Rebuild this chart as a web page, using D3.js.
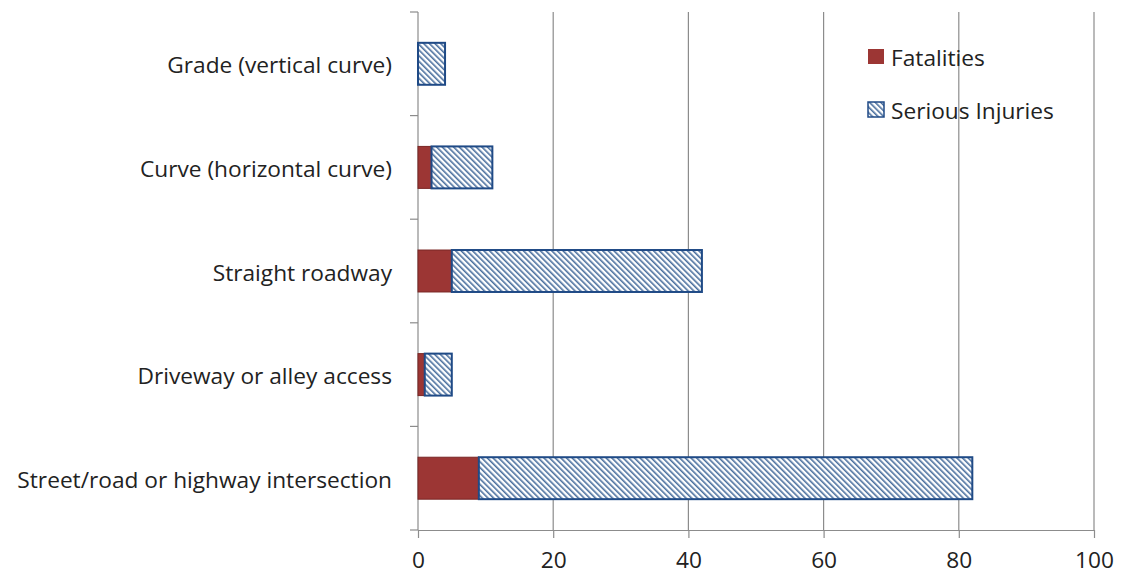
<!DOCTYPE html>
<html>
<head>
<meta charset="utf-8">
<script src="https://cdn.jsdelivr.net/npm/d3@7"></script>
<style>
  body { margin: 0; background: #fff; }
  svg { display: block; }
  text { font-family: "Open Sans", "Liberation Sans", sans-serif; fill: #222; }
</style>
</head>
<body>
<svg id="chart" width="1129" height="576"></svg>
<script>
// Crash counts by roadway alignment
const categories = [
  "Grade (vertical curve)",
  "Curve (horizontal curve)",
  "Straight roadway",
  "Driveway or alley access",
  "Street/road or highway intersection"
];
const fatalities = [0, 2, 5, 1, 9];
const seriousInjuries = [4, 9, 37, 4, 73];
const xTicks = [0, 20, 40, 60, 80, 100];
const seriesNames = ["Fatalities", "Serious Injuries"];

const svg = d3.select("#chart");
const margin = { left: 418, right: 35, top: 12, bottom: 46 };
const W = 1129, H = 576;
const fontSize = 22.7;

const x = d3.scaleLinear().domain([0, 100]).range([margin.left, W - margin.right]);
const y = d3.scaleBand().domain(categories).range([margin.top, H - margin.bottom]).paddingInner(0.595).paddingOuter(0.2975);

// diagonal hatch for serious injuries
const defs = svg.append("defs");
const pat = defs.append("pattern")
  .attr("id", "hatch").attr("patternUnits", "userSpaceOnUse")
  .attr("width", 4).attr("height", 4)
  .attr("patternTransform", "rotate(-45)");
pat.append("rect").attr("width", 4).attr("height", 4).attr("fill", "#ffffff");
pat.append("rect").attr("x", 0).attr("y", 0).attr("width", 1.6).attr("height", 4).attr("fill", "#4a6f9e");

// vertical gridlines
svg.append("g").selectAll("line").data(xTicks.slice(1)).join("line")
  .attr("x1", d => x(d)).attr("x2", d => x(d))
  .attr("y1", margin.top).attr("y2", H - margin.bottom)
  .attr("stroke", "#8c8c8c").attr("stroke-width", 1.2);

// x axis
const xAxis = svg.append("g")
  .attr("transform", `translate(0,${H - margin.bottom})`)
  .call(d3.axisBottom(x).tickValues(xTicks).tickSize(8).tickSizeOuter(0).tickPadding(14));
xAxis.select(".domain").attr("stroke", "#8c8c8c").attr("stroke-width", 1.2);
xAxis.selectAll(".tick line").attr("stroke", "#8c8c8c").attr("stroke-width", 1.2);
xAxis.selectAll(".tick text").attr("font-size", fontSize).attr("fill", "#222")
  .attr("font-family", "'Open Sans', 'Liberation Sans', sans-serif");

// y axis with ticks on band boundaries
const yAxisG = svg.append("g").attr("transform", `translate(${margin.left},0)`);
yAxisG.append("line").attr("x1", 0).attr("x2", 0)
  .attr("y1", margin.top).attr("y2", H - margin.bottom)
  .attr("stroke", "#8c8c8c").attr("stroke-width", 1.2);
const step = (H - margin.bottom - margin.top) / categories.length;
yAxisG.selectAll("line.tk").data(d3.range(categories.length + 1)).join("line")
  .attr("class", "tk")
  .attr("x1", -8).attr("x2", 0)
  .attr("y1", i => margin.top + i * step).attr("y2", i => margin.top + i * step)
  .attr("stroke", "#8c8c8c").attr("stroke-width", 1.2);
yAxisG.selectAll("text").data(categories).join("text")
  .attr("x", -26).attr("y", d => y(d) + y.bandwidth() / 2 + 1)
  .attr("text-anchor", "end").attr("dominant-baseline", "central")
  .attr("font-size", fontSize).text(d => d);

// stacked bars
const rows = categories.map((c, i) => ({ c, f: fatalities[i], s: seriousInjuries[i] }));
const bars = svg.append("g");
bars.selectAll("rect.f").data(rows.filter(r => r.f > 0)).join("rect")
  .attr("class", "f")
  .attr("x", d => x(0)).attr("y", d => y(d.c))
  .attr("width", d => x(d.f) - x(0)).attr("height", y.bandwidth())
  .attr("fill", "#9c3634").attr("stroke", "#7a2624").attr("stroke-width", 1);
bars.selectAll("rect.s").data(rows).join("rect")
  .attr("class", "s")
  .attr("x", d => x(d.f)).attr("y", d => y(d.c))
  .attr("width", d => x(d.f + d.s) - x(d.f)).attr("height", y.bandwidth())
  .attr("fill", "url(#hatch)").attr("stroke", "#1f4a86").attr("stroke-width", 2);

// legend
const legend = svg.append("g");
const lg = legend.selectAll("g").data(seriesNames).join("g")
  .attr("transform", (d, i) => `translate(868,${49 + i * 53})`);
lg.append("rect").attr("width", 16).attr("height", 15)
  .attr("fill", (d, i) => i === 0 ? "#9c3634" : "url(#hatch)")
  .attr("stroke", (d, i) => i === 0 ? "none" : "#1f4a86")
  .attr("stroke-width", 1.5);
lg.append("text").attr("x", 23).attr("y", 8)
  .attr("dominant-baseline", "central").attr("font-size", fontSize).text(d => d);
</script>
</body>
</html>
